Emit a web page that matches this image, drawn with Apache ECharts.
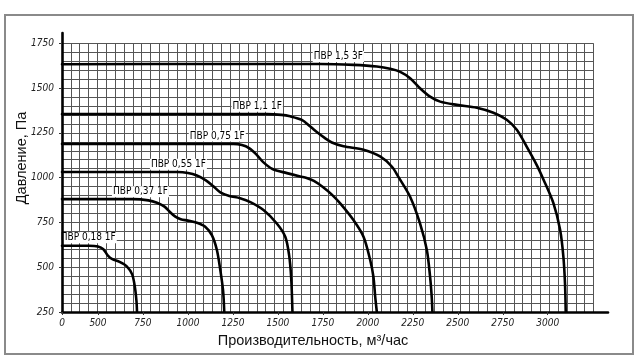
<!DOCTYPE html>
<html><head><meta charset="utf-8">
<script src="https://cdn.jsdelivr.net/npm/echarts@6/dist/echarts.min.js"></script>
<style>html,body{margin:0;padding:0;background:#fff}#c{width:640px;height:357px}</style>
</head><body><div id="c"></div>
<script>
// ---- data ----
const seriesNames = ['ПВР 1,5 3F','ПВР 1,1 1F','ПВР 0,75 1F','ПВР 0,55 1F','ПВР 0,37 1F','ПВР 0,18 1F'];

const q15 = [300,1200,1735,1920,2050,2130,2180,2235,2290,2346,2402,2495,2606,2698,2772,2828,2883,2939,2976,3032,3069,3087,3096,3100];
const p15 = [1633,1634,1634,1629,1620,1606,1590,1555,1499,1452,1424,1406,1390,1362,1323,1267,1173,1070,990,856,707,558,409,250];

const q11 = [300,1000,1441,1520,1568,1633,1680,1720,1760,1800,1865,1976,2068,2133,2170,2235,2290,2328,2346,2355,2359];
const p11 = [1354,1354,1354,1350,1342,1322,1285,1252,1222,1196,1175,1155,1118,1062,1004,893,744,596,447,335,250];

const q075 = [300,900,1252,1300,1340,1380,1420,1470,1550,1624,1660,1700,1750,1800,1850,1920,1976,2013,2031,2041,2050];
const p075 = [1188,1188,1188,1182,1165,1130,1085,1048,1025,1006,998,982,948,905,852,763,670,540,447,335,250];

const q055 = [300,700,941,1000,1050,1100,1140,1180,1230,1290,1350,1420,1494,1541,1562,1574,1581];
const p055 = [1031,1031,1031,1026,1012,985,953,918,898,885,862,819,744,670,570,440,250];

const q037 = [300,500,696,780,828,870,900,930,960,1000,1050,1096,1133,1161,1180,1195,1202];
const p037 = [880,880,880,873,860,838,808,782,768,760,748,726,679,596,484,373,250];

const q018 = [300,450,500,530,555,580,620,660,690,705,714,717];
const p018 = [620,620,616,600,565,545,530,505,460,390,310,250];

// where each curve's name label sits (flow value along the curve)
const labelFlow = [1836,1385,1163,947,736,446];

const xTickValues = [300,500,750,1000,1250,1500,1750,2000,2250,2500,2750,3000];
const xTickLabels = ['0','500','750','1000','1250','1500','1750','2000','2250','2500','2750','3000'];
const yTickValues = [250,500,750,1000,1250,1500,1750];
const yTickLabels = ['250','500','750','1000','1250','1500','1750'];

// ---- chart ----
const flows = [q15,q11,q075,q055,q037,q018];
const press = [p15,p11,p075,p055,p037,p018];

function interpAt(qs, ps, x){
  for (let i=1;i<qs.length;i++){
    if (x<=qs[i]) { const t=(x-qs[i-1])/(qs[i]-qs[i-1]); return ps[i-1]+t*(ps[i]-ps[i-1]); }
  }
  return ps[ps.length-1];
}

const narrow = '"Liberation Sans Narrow","Arial Narrow","DejaVu Sans Condensed",sans-serif';

const series = seriesNames.map((name,k)=>({
  type:'line', name, xAxisIndex:0, yAxisIndex:0, z:5,
  smooth:0.3, showSymbol:false, symbol:'none',
  lineStyle:{color:'#000', width:2.6, join:'round', cap:'round'},
  data: flows[k].map((q,i)=>[q, press[k][i]]),
  markPoint:{
    symbol:'rect', symbolSize:0, silent:true,
    data:[{coord:[labelFlow[k], interpAt(flows[k],press[k],labelFlow[k])]}],
    label:{show:true, position:'inside', offset:[0,-8], formatter:name,
      color:'#000', fontFamily:narrow, fontSize:10,
      backgroundColor:'#fff', padding:[1,1,0,1]}
  }
}));

const chart = echarts.init(document.getElementById('c'), null, {renderer:'canvas'});
chart.setOption({
  animation:false,
  backgroundColor:'#fff',
  grid:[
    {left:62, right:32, top:33, bottom:45, containLabel:false},
    {left:62, right:46.5, top:43.3, bottom:45, containLabel:false}
  ],
  xAxis:[
    {type:'value', gridIndex:0, min:300, max:3335, z:6,
     axisLine:{show:true, onZero:false, lineStyle:{color:'#000', width:2.6}},
     axisTick:{show:true, length:3, customValues:xTickValues, lineStyle:{color:'#333'}},
     splitLine:{show:false},
     axisLabel:{show:true, customValues:xTickValues, margin:6,
       formatter:(v)=>xTickLabels[xTickValues.indexOf(v)] ?? '',
       fontFamily:narrow, fontStyle:'italic', fontSize:10, color:'#222'}},
    {type:'value', gridIndex:1, min:0, max:60, interval:1,
     axisLine:{show:false}, axisTick:{show:false}, axisLabel:{show:false},
     splitLine:{show:true, lineStyle:{color:'#555', width:1}}}
  ],
  yAxis:[
    {type:'value', gridIndex:0, min:250, max:1807, z:6,
     axisLine:{show:true, onZero:false, lineStyle:{color:'#000', width:2.6}},
     axisTick:{show:true, length:3, customValues:yTickValues, lineStyle:{color:'#333'}},
     splitLine:{show:false},
     axisLabel:{show:true, customValues:yTickValues, margin:8,
       formatter:(v)=>yTickLabels[yTickValues.indexOf(v)] ?? '',
       fontFamily:narrow, fontStyle:'italic', fontSize:10, color:'#222'}},
    {type:'value', gridIndex:1, min:0, max:30, interval:1,
     axisLine:{show:false}, axisTick:{show:false}, axisLabel:{show:false},
     splitLine:{show:true, lineStyle:{color:'#555', width:1}}}
  ],
  graphic:[
    {type:'rect', z:0, shape:{x:5, y:15, width:628, height:339},
     style:{fill:null, stroke:'#8a8a8a', lineWidth:2}},
    {type:'text', x:22, y:158, rotation:Math.PI/2,
     style:{text:'Давление, Па', font:'14.5px "Liberation Sans", Arial, sans-serif', fill:'#111',
       align:'center', verticalAlign:'middle'}},
    {type:'text', x:313, y:341,
     style:{text:'Производительность, м³/час', font:'14.5px "Liberation Sans", Arial, sans-serif', fill:'#111',
       align:'center', verticalAlign:'middle'}}
  ],
  series
});
</script></body></html>
